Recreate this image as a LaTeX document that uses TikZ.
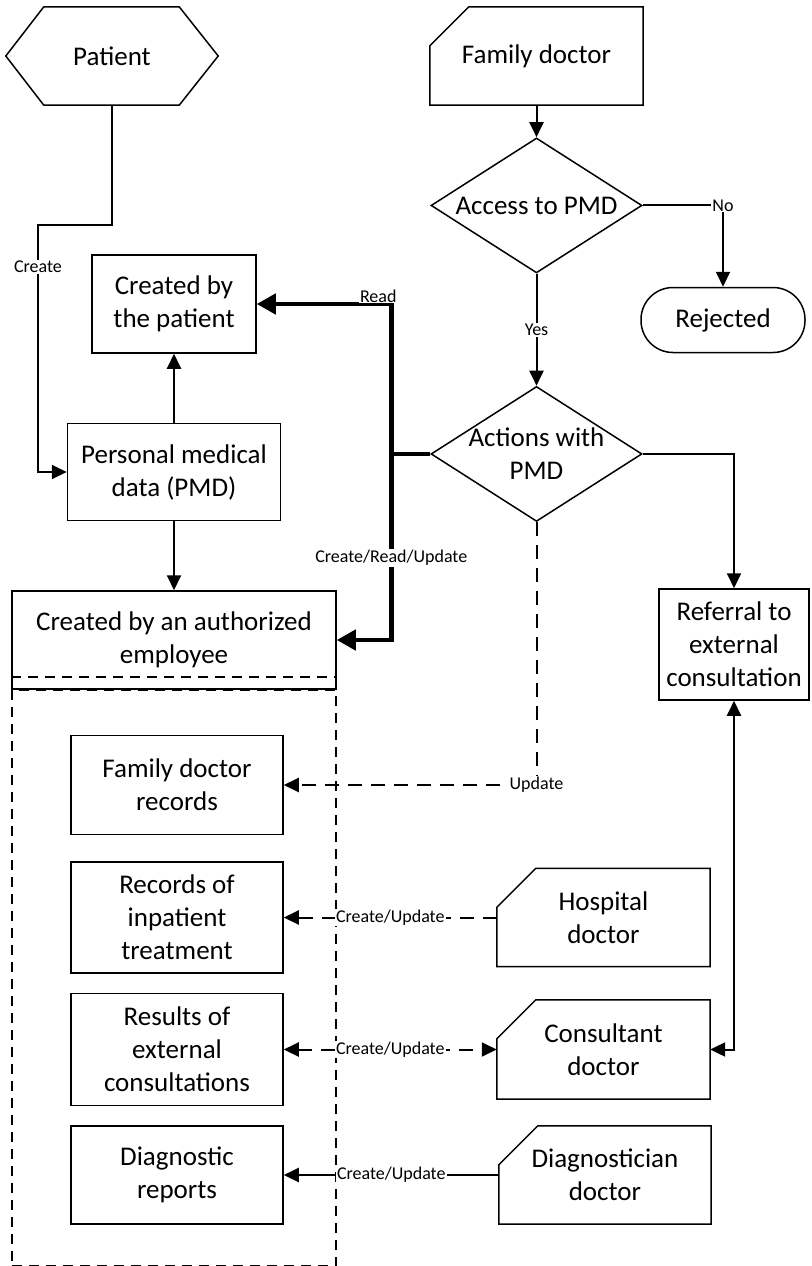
\documentclass[tikz,border=0pt]{standalone}
\usepackage{fontspec}
\setmainfont{Carlito}
\usepackage{tikz}
\usetikzlibrary{arrows.meta,positioning,shapes.geometric}
\definecolor{Ink}{HTML}{000000}
\tikzset{
  arr/.style={-{Triangle[length=15pt,width=14pt]},line width=2pt,draw=Ink},
  dasharr/.style={arr,dash pattern=on 14pt off 9pt},
  bothway/.style={{Triangle[length=15pt,width=14pt]}-{Triangle[length=15pt,width=14pt]},line width=2pt,draw=Ink},
  dashboth/.style={bothway,dash pattern=on 14pt off 9pt},
  boldarr/.style={-{Triangle[length=19pt,width=20pt]},line width=4.5pt,draw=Ink},
  boxstyle/.style={draw=Ink,line width=1.5pt,fill=white,align=center,inner sep=2pt},
  shapeonly/.style={align=center,inner sep=0pt},
  decision/.style={diamond,draw=Ink,line width=1.5pt,inner sep=0pt,minimum width=211pt,minimum height=135pt},
  terminal/.style={draw=Ink,line width=1.5pt,rounded corners=32pt,align=center},
  outline/.style={draw=Ink,line width=1.5pt},
  grouped/.style={draw=Ink,line width=1.5pt,dash pattern=on 10pt off 7pt,outer sep=0pt},
  lbl/.style={fill=white,inner sep=1pt,font=\fontsize{18}{20}\selectfont}
}
\newcommand{\cardline}[1]{\draw[outline] ([yshift=-39pt]#1.north west) -- ([xshift=39pt]#1.north west) -- (#1.north east) -- (#1.south east) -- (#1.south west) -- cycle;}

\begin{document}
\begin{tikzpicture}[x=1pt,y=-1pt,font=\fontsize{27}{33}\selectfont]
  \useasboundingbox (0,0) rectangle (811,1266);
  % actors and decisions
  \node[shapeonly,minimum width=212pt,minimum height=98pt] (patient) at (112,56) {Patient};
  \node[shapeonly,minimum width=213pt,minimum height=98pt] (famdoc) at (536.5,56) {Family doctor};
  \node[decision,below=32pt of famdoc,label={[align=center]center:{Access to PMD}}] (access) {};
  \node[decision,below=112pt of access,label={[align=center]center:{Actions with\\PMD}}] (actions) {};
  \node[terminal,minimum width=164pt,minimum height=65pt] (rejected) at (723,320) {Rejected};
  \node[boxstyle,minimum width=150pt,minimum height=111pt] (referral) at (734,644.5) {Referral to\\external\\consultation};
  % data boxes
  \node[boxstyle,minimum width=164pt,minimum height=98pt] (bypatient) at (174,304) {Created by\\the patient};
  \node[boxstyle,below=69pt of bypatient,minimum width=213pt,minimum height=97pt] (pmd) {Personal medical\\data (PMD)};
  \node[boxstyle,below=69pt of pmd,minimum width=324pt,minimum height=98pt] (employee) {Created by an authorized\\employee};
  \node[grouped,below=0pt of employee,minimum width=324pt,minimum height=576pt] (group) {};
  \draw[grouped] ([yshift=13pt]employee.south west) -- ([yshift=13pt]employee.south east);
  \node[boxstyle,minimum width=212pt,minimum height=99pt] (fdrec) at (177,785) {Family doctor\\records};
  \node[boxstyle,below=26pt of fdrec,minimum width=212pt,minimum height=111pt] (inpat) {Records of\\inpatient\\treatment};
  \node[boxstyle,below=19pt of inpat,minimum width=212pt,minimum height=112pt] (extres) {Results of\\external\\consultations};
  \node[boxstyle,below=19pt of extres,minimum width=212pt,minimum height=98pt] (diagrep) {Diagnostic\\reports};
  % other doctors
  \node[shapeonly,right=213pt of inpat,minimum width=213pt,minimum height=98pt] (hospdoc) {Hospital\\doctor};
  \node[shapeonly,right=213pt of extres,minimum width=213pt,minimum height=99pt] (consdoc) {Consultant\\doctor};
  \node[shapeonly,right=215pt of diagrep,minimum width=212pt,minimum height=98pt] (diagdoc) {Diagnostician\\doctor};
  % outlines
  \draw[outline] (patient.west) -- ([xshift=38pt]patient.north west) -- ([xshift=-39pt]patient.north east) -- (patient.east) -- ([xshift=-39pt]patient.south east) -- ([xshift=38pt]patient.south west) -- cycle;
  \cardline{famdoc}\cardline{hospdoc}\cardline{consdoc}\cardline{diagdoc}
  % connectors
  \coordinate (bend) at (38,225);
  \path (actions.west) -- ++(-39,0) coordinate (hub);
  \draw[arr] (patient.south) |- (bend) |- node[lbl,pos=.085]{Create} (pmd.west);
  \draw[arr] (famdoc) -- (access);
  \draw[arr] (access.east) -| node[lbl,pos=.5]{No} (rejected.north);
  \draw[arr] (access) -- node[lbl]{Yes} (actions);
  \draw[arr] (pmd) -- (bypatient);
  \draw[arr] (pmd) -- (employee);
  \draw[boldarr] (actions.west) -- (hub) |- node[lbl,pos=.5,xshift=-13pt,yshift=8pt]{Read} (bypatient.east);
  \draw[boldarr] (hub) |- node[lbl,pos=.28]{Create/Read/Update} (employee.east);
  \draw[dasharr] (actions.south) |- node[lbl,pos=.5]{Update} (fdrec.east);
  \draw[arr] (actions.east) -| (referral.north);
  \draw[bothway] (referral.south) |- (consdoc.east);
  \draw[dasharr] (hospdoc.west) -- node[lbl]{Create/Update} (inpat.east);
  \draw[dashboth] (extres.east) -- node[lbl]{Create/Update} (consdoc.west);
  \draw[arr] (diagdoc.west) -- node[lbl]{Create/Update} (diagrep.east);
\end{tikzpicture}
\end{document}
